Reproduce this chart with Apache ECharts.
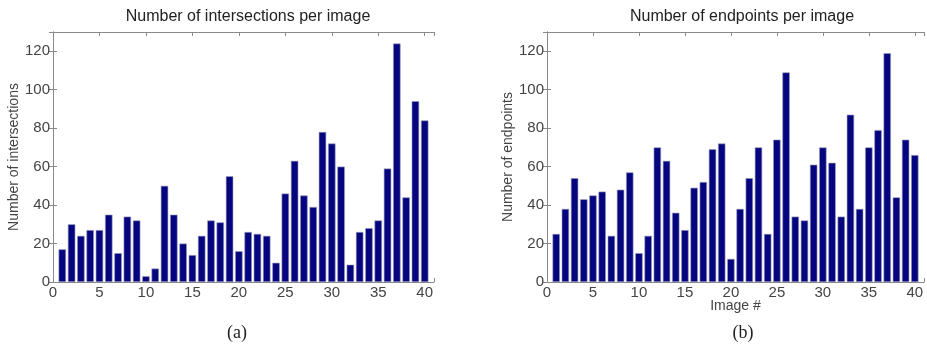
<!DOCTYPE html>
<html>
<head>
<meta charset="utf-8">
<script src="https://cdn.jsdelivr.net/npm/echarts@6/dist/echarts.min.js"></script>
<style>
  html, body { margin: 0; padding: 0; background: #fff; }
  #chart { width: 927px; height: 350px; }
</style>
</head>
<body>
<div id="chart"></div>
<script>
const images = Array.from({length: 40}, (_, i) => i + 1);
const intersections = [17, 30, 24, 27, 27, 35, 15, 34, 32, 3,
    7, 50, 35, 20, 14, 24, 32, 31, 55, 16,
    26, 25, 24, 10, 46, 63, 45, 39, 78, 72,
    60, 9, 26, 28, 32, 59, 124, 44, 94, 84];
const endpoints = [25, 38, 54, 43, 45, 47, 24, 48, 57, 15,
    24, 70, 63, 36, 27, 49, 52, 69, 72, 12,
    38, 54, 70, 25, 74, 109, 34, 32, 61, 70,
    62, 34, 87, 38, 70, 79, 119, 44, 74, 66];

const font = 'Liberation Sans';
const axisGray = '#8a8a8a';
const barColor = '#05057f';

const chart = echarts.init(document.getElementById('chart'));

const grids = [
    {left: 53, top: 32, width: 381, height: 250},
    {left: 547, top: 32, width: 382, height: 250}
];

const xAxisBase = (gi, show, name) => ({
    type: 'value', gridIndex: gi, min: 0, max: 41, interval: 5,
    position: show ? 'bottom' : 'top',
    name: name || '', nameLocation: 'middle', nameGap: 17, nameMoveOverlap: false,
    nameTextStyle: {fontFamily: font, fontSize: 14, color: '#444'},
    axisLine: {show: true, onZero: false, lineStyle: {color: axisGray, width: 1}},
    axisTick: {show: true, inside: true, length: 4, lineStyle: {color: axisGray}},
    axisLabel: {show: show, margin: 3, fontFamily: font, fontSize: 15, color: '#444',
        formatter: v => v > 40 ? '' : v},
    splitLine: {show: false}
});
const yAxisBase = (gi, show, name) => ({
    type: 'value', gridIndex: gi, min: 0, max: 130, interval: 20,
    position: show ? 'left' : 'right',
    name: name || '', nameLocation: 'middle', nameGap: 30, nameRotate: 90,
    nameTextStyle: {fontFamily: font, fontSize: 14, color: '#444'},
    axisLine: {show: true, lineStyle: {color: axisGray, width: 1}},
    axisTick: {show: true, inside: true, length: 4, lineStyle: {color: axisGray}},
    axisLabel: {show: show, margin: 3, fontFamily: font, fontSize: 15, color: '#444',
        formatter: v => v > 120 ? '' : v},
    splitLine: {show: false}
});

const barSeries = (idx, values) => ({
    type: 'bar',
    xAxisIndex: idx * 2, yAxisIndex: idx * 2,
    barWidth: '80%',
    itemStyle: {color: barColor, borderColor: '#9a9ab8', borderWidth: 0.6},
    data: images.map((x, i) => [x, values[i]])
});

chart.setOption({
    animation: false,
    title: [
        {text: 'Number of intersections per image', left: 243, top: 4, textAlign: 'center',
            textStyle: {fontFamily: font, fontSize: 16, fontWeight: 'normal', color: '#222'}},
        {text: 'Number of endpoints per image', left: 737, top: 4, textAlign: 'center',
            textStyle: {fontFamily: font, fontSize: 16, fontWeight: 'normal', color: '#222'}},
        {text: '(a)', left: 232, top: 319, textAlign: 'center',
            textStyle: {fontFamily: 'Liberation Serif', fontSize: 18, fontWeight: 'normal', color: '#222'}},
        {text: '(b)', left: 738, top: 319, textAlign: 'center',
            textStyle: {fontFamily: 'Liberation Serif', fontSize: 18, fontWeight: 'normal', color: '#222'}}
    ],
    grid: grids,
    xAxis: [
        xAxisBase(0, true), xAxisBase(0, false),
        xAxisBase(1, true, 'Image #'), xAxisBase(1, false)
    ],
    yAxis: [
        yAxisBase(0, true, 'Number of intersections'), yAxisBase(0, false),
        yAxisBase(1, true, 'Number of endpoints'), yAxisBase(1, false)
    ],
    series: [barSeries(0, intersections), barSeries(1, endpoints)]
});
</script>
</body>
</html>
